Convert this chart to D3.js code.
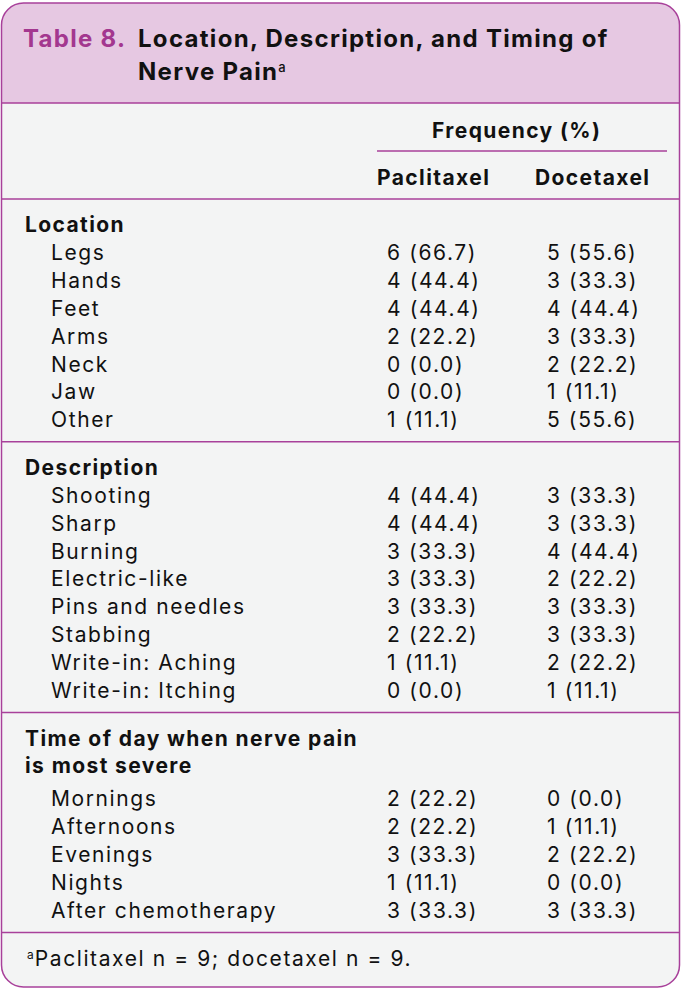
<!DOCTYPE html>
<html>
<head>
<meta charset="utf-8">
<script src="https://cdn.jsdelivr.net/npm/d3@7"></script>
<style>
  body { margin: 0; background: #fff; }
  svg { display: block; font-family: 'Inter', 'Open Sans', sans-serif; }
</style>
</head>
<body>
<div id="table"></div>
<script>
const titleLabel = 'Table 8.'
const titleLines = ['Location, Description, and Timing of', 'Nerve Pain']
const spanHeader = 'Frequency (%)'
const groups = ['Paclitaxel', 'Docetaxel']
const footnote = 'Paclitaxel n = 9; docetaxel n = 9.'

const locationRows = ['Legs', 'Hands', 'Feet', 'Arms', 'Neck', 'Jaw', 'Other']
const locationPac = ['6 (66.7)', '4 (44.4)', '4 (44.4)', '2 (22.2)', '0 (0.0)', '0 (0.0)', '1 (11.1)']
const locationDoc = ['5 (55.6)', '3 (33.3)', '4 (44.4)', '3 (33.3)', '2 (22.2)', '1 (11.1)', '5 (55.6)']

const descriptionRows = ['Shooting', 'Sharp', 'Burning', 'Electric-like', 'Pins and needles', 'Stabbing', 'Write-in: Aching', 'Write-in: Itching']
const descriptionPac = ['4 (44.4)', '4 (44.4)', '3 (33.3)', '3 (33.3)', '3 (33.3)', '2 (22.2)', '1 (11.1)', '0 (0.0)']
const descriptionDoc = ['3 (33.3)', '3 (33.3)', '4 (44.4)', '2 (22.2)', '3 (33.3)', '3 (33.3)', '2 (22.2)', '1 (11.1)']

const timeRows = ['Mornings', 'Afternoons', 'Evenings', 'Nights', 'After chemotherapy']
const timePac = ['2 (22.2)', '2 (22.2)', '3 (33.3)', '1 (11.1)', '3 (33.3)']
const timeDoc = ['0 (0.0)', '1 (11.1)', '2 (22.2)', '0 (0.0)', '3 (33.3)']

const sections = [
  { title: ['Location'], rows: locationRows, pac: locationPac, doc: locationDoc },
  { title: ['Description'], rows: descriptionRows, pac: descriptionPac, doc: descriptionDoc },
  { title: ['Time of day when nerve pain', 'is most severe'], rows: timeRows, pac: timePac, doc: timeDoc }
]

const width = 681
const height = 999
const magenta = '#a8409a'
const pink = '#e6c8e2'
const bodyFill = '#f3f4f4'
const ink = '#111'

const svg = d3.select('#table')
  .append('svg')
  .attr('width', width)
  .attr('height', height)
  .attr('viewBox', [0, 0, width, height])

// columns
const x = d3.scaleOrdinal()
  .domain(['section', 'label', ...groups])
  .range([25, 51, 377, 535])
const valueX = d3.scaleOrdinal()
  .domain(groups)
  .range([387, 547])

// rows: one unit = one text line
const rowH = 27.9
const y = d3.scaleLinear().domain([0, 1]).range([0, rowH])

const boxTop = 3, boxBottom = 987, boxLeft = 1.5, boxRight = 679.5, r = 22
const headBottom = 103
const colHeadBottom = 199

// outer shape
const outline = `M${boxLeft},${boxTop + r} A${r},${r} 0 0 1 ${boxLeft + r},${boxTop} L${boxRight - r},${boxTop} A${r},${r} 0 0 1 ${boxRight},${boxTop + r} L${boxRight},${boxBottom - r} A${r},${r} 0 0 1 ${boxRight - r},${boxBottom} L${boxLeft + r},${boxBottom} A${r},${r} 0 0 1 ${boxLeft},${boxBottom - r} Z`

svg.append('clipPath').attr('id', 'clip')
  .append('path').attr('d', outline)

const bg = svg.append('g').attr('clip-path', 'url(#clip)')
bg.append('rect').attr('x', 0).attr('y', 0).attr('width', width).attr('height', height).attr('fill', bodyFill)
bg.append('rect').attr('x', 0).attr('y', 0).attr('width', width).attr('height', headBottom).attr('fill', pink)

// title
const title = svg.append('g')
  .style('font-weight', 700)
  .style('font-size', '24px')
  .style('letter-spacing', '1.3px')
title.append('text')
  .attr('x', 23).attr('y', 47)
  .attr('fill', '#a3378f')
  .text(titleLabel)
const nerve = title.selectAll('text.t')
  .data(titleLines)
  .join('text')
  .attr('class', 't')
  .attr('x', 138)
  .attr('y', (d, i) => 47 + i * 33)
  .attr('fill', ink)
  .text(d => d)
nerve.filter((d, i) => i === titleLines.length - 1)
  .append('tspan')
  .attr('dy', -8)
  .style('font-size', '13px')
  .style('font-weight', 500)
  .style('letter-spacing', '0px')
  .text('a')

// column header
const head = svg.append('g')
  .style('font-weight', 700)
  .style('font-size', '21px')
  .style('letter-spacing', '1.4px')
  .attr('fill', ink)
head.append('text')
  .attr('x', 432)
  .attr('y', 138)
  .text(spanHeader)
head.append('line')
  .attr('x1', x(groups[0])).attr('x2', 667)
  .attr('y1', 151).attr('y2', 151)
  .attr('stroke', magenta).attr('stroke-width', 1.5)
head.selectAll('text.g')
  .data(groups)
  .join('text')
  .attr('class', 'g')
  .attr('x', d => x(d))
  .attr('y', 185)
  .text(d => d)

// separator lines
const lines = [headBottom, colHeadBottom]

// body sections
let cursor = colHeadBottom
const bodyG = svg.append('g')
  .style('font-size', '21px')
  .style('letter-spacing', '1.6px')
  .attr('fill', ink)
sections.forEach(s => {
  const headY = cursor + 33
  bodyG.selectAll(null)
    .data(s.title)
    .join('text')
    .attr('x', x('section'))
    .attr('y', (d, i) => headY + y(i))
    .style('font-weight', 700)
    .style('letter-spacing', '1.4px')
    .text(d => d)
  const extra = s.title.length > 1 ? 5 : 0
  const firstY = headY + y(s.title.length) + extra
  const rows = s.rows.map((d, i) => ({ label: d, pac: s.pac[i], doc: s.doc[i], y: firstY + y(i) }))
  const g = bodyG.append('g')
  g.selectAll('text.l').data(rows).join('text').attr('class', 'l')
    .attr('x', x('label')).attr('y', d => d.y).text(d => d.label)
  g.selectAll('text.p').data(rows).join('text').attr('class', 'p')
    .attr('x', valueX(groups[0])).attr('y', d => d.y).text(d => d.pac)
  g.selectAll('text.d').data(rows).join('text').attr('class', 'd')
    .attr('x', valueX(groups[1])).attr('y', d => d.y).text(d => d.doc)
  cursor = rows[rows.length - 1].y + 14.5
  lines.push(cursor)
})

svg.selectAll('line.sep')
  .data(lines)
  .join('line')
  .attr('class', 'sep')
  .attr('x1', boxLeft).attr('x2', boxRight)
  .attr('y1', d => d).attr('y2', d => d)
  .attr('stroke', magenta).attr('stroke-width', 1.5)

// footnote
const foot = svg.append('text')
  .attr('x', 27).attr('y', cursor + 34)
  .attr('fill', ink)
  .style('font-size', '21px')
  .style('letter-spacing', '1.6px')
foot.append('tspan').style('font-size', '12px').style('letter-spacing', '0px').attr('dy', -7).text('a')
foot.append('tspan').attr('dy', 7).attr('dx', 1).text(footnote)

// outline on top
svg.append('path')
  .attr('d', outline)
  .attr('fill', 'none')
  .attr('stroke', magenta)
  .attr('stroke-width', 1.5)
</script>
</body>
</html>
